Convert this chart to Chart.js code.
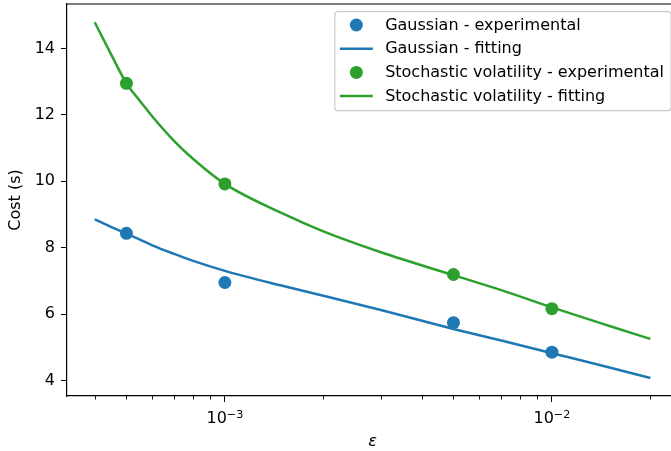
<!DOCTYPE html>
<html><head><meta charset="utf-8">
<script src="https://cdn.jsdelivr.net/npm/chart.js@4/dist/chart.umd.min.js"></script>
<style>html,body{margin:0;padding:0;background:#fff;overflow:hidden}#wrap{width:671px;height:451px;position:relative;overflow:hidden}canvas{display:block}</style>
</head><body><div id="wrap"><canvas id="c" width="685" height="451"></canvas></div>
<script>
// ---- data ----
const expEps   = [5e-4, 1e-3, 5e-3, 1e-2];
const gaussExp = [8.43, 6.95, 5.74, 4.85];
const svExp    = [12.95, 9.92, 7.19, 6.16];

const fitEps   = [4e-4, 4.5e-4, 5e-4, 5.5e-4, 6e-4, 7e-4, 8e-4, 1e-3, 1.5e-3, 2e-3, 3e-3, 5e-3, 7e-3, 1e-2, 1.5e-2, 2e-2];
const gaussFit = [8.85, 8.62, 8.42, 8.24, 8.07, 7.81, 7.60, 7.30, 6.85, 6.55, 6.12, 5.55, 5.20, 4.82, 4.39, 4.07];
const svFit    = [14.79, 13.80, 12.95, 12.42, 11.95, 11.21, 10.67, 9.92, 9.03, 8.49, 7.86, 7.17, 6.72, 6.20, 5.64, 5.25];

const seriesLabels = ['Gaussian - experimental', 'Gaussian - fitting',
                      'Stochastic volatility - experimental', 'Stochastic volatility - fitting'];

const xMajorTicks = [1e-3, 1e-2];
const xTickBase = ['10', '10'];
const xTickExp  = ['\u22123', '\u22122'];
const xMinorTicks = [4e-4, 5e-4, 6e-4, 7e-4, 8e-4, 9e-4,
                     2e-3, 3e-3, 4e-3, 5e-3, 6e-3, 7e-3, 8e-3, 9e-3, 2e-2];
const yTicks = [4, 6, 8, 10, 12, 14];

const xRange = [3.29e-4, 0.0243];
const yRange = [3.53, 15.34];

const BLUE = '#1f77b4', GREEN = '#2ca02c';
const FONT = 'DejaVu Sans';
const FS = 16;
const FS_SUP = 11.2;

const pts = (xs, ys) => xs.map((x, i) => ({x: x, y: ys[i]}));

// ---- plugins ----
const framePlugin = {
  id: 'frame',
  afterDraw(chart) {
    const {ctx, chartArea: a, scales} = chart;
    ctx.save();
    ctx.strokeStyle = '#000';
    ctx.lineWidth = 0.9;
    xMinorTicks.forEach(v => {
      const px = Math.round(scales.x.getPixelForValue(v)) + 0.5;
      ctx.beginPath(); ctx.moveTo(px, a.bottom); ctx.lineTo(px, a.bottom + 3.5); ctx.stroke();
    });
    ctx.lineWidth = 1.2;
    ctx.beginPath();
    ctx.moveTo(a.left, a.top); ctx.lineTo(a.right, a.top); ctx.lineTo(a.right, a.bottom);
    ctx.stroke();
    // x tick labels in mathtext style: base + raised exponent
    ctx.fillStyle = '#000';
    ctx.textBaseline = 'alphabetic';
    ctx.textAlign = 'left';
    xMajorTicks.forEach((v, i) => {
      const px = scales.x.getPixelForValue(v);
      ctx.font = FS + 'px "' + FONT + '"';
      const wb = ctx.measureText(xTickBase[i]).width;
      ctx.font = FS_SUP + 'px "' + FONT + '"';
      const we = ctx.measureText(xTickExp[i]).width;
      const x0 = px - (wb + we) / 2;
      ctx.font = FS + 'px "' + FONT + '"';
      ctx.fillText(xTickBase[i], x0, a.bottom + 27.3);
      ctx.font = FS_SUP + 'px "' + FONT + '"';
      ctx.fillText(xTickExp[i], x0 + wb, a.bottom + 21.7);
    });
    ctx.restore();
  }
};

const legendPlugin = {
  id: 'mplLegend',
  afterDraw(chart) {
    const {ctx, chartArea: a} = chart;
    const ds = chart.data.datasets;
    ctx.save();
    ctx.font = FS + 'px "' + FONT + '"';
    let maxW = 0;
    ds.forEach(d => { maxW = Math.max(maxW, ctx.measureText(d.label).width); });
    const padL = 5, handleLen = 33, gap = 12.3, padR = 7;
    const w = padL + handleLen + gap + maxW + padR;
    const right = a.right - 7;
    const left = right - w;
    const top = a.top + 7.7;
    const rowH = 23.7;
    const h = 99;
    ctx.fillStyle = 'rgba(255,255,255,0.8)';
    ctx.strokeStyle = '#cccccc';
    ctx.lineWidth = 1.2;
    const r = 3;
    ctx.beginPath();
    ctx.moveTo(left + r, top);
    ctx.lineTo(right - r, top); ctx.arcTo(right, top, right, top + r, r);
    ctx.lineTo(right, top + h - r); ctx.arcTo(right, top + h, right - r, top + h, r);
    ctx.lineTo(left + r, top + h); ctx.arcTo(left, top + h, left, top + h - r, r);
    ctx.lineTo(left, top + r); ctx.arcTo(left, top, left + r, top, r);
    ctx.closePath();
    ctx.fill(); ctx.stroke();
    ds.forEach((d, i) => {
      const cy = top + 13.3 + i * rowH;
      const hx = left + padL;
      if (d.showLine) {
        ctx.strokeStyle = d.borderColor; ctx.lineWidth = d.borderWidth;
        ctx.beginPath(); ctx.moveTo(hx, cy); ctx.lineTo(hx + handleLen, cy); ctx.stroke();
      } else {
        ctx.fillStyle = d.backgroundColor;
        ctx.beginPath(); ctx.arc(hx + handleLen / 2, cy, d.pointRadius, 0, Math.PI * 2); ctx.fill();
      }
      ctx.fillStyle = '#000';
      ctx.textBaseline = 'middle';
      ctx.textAlign = 'left';
      ctx.fillText(d.label, hx + handleLen + gap, cy + 0.5);
    });
    ctx.restore();
  }
};

Chart.defaults.font.family = FONT;
Chart.defaults.font.size = FS;
Chart.defaults.color = '#000';

new Chart(document.getElementById('c'), {
  type: 'scatter',
  data: {
    datasets: [
      { label: seriesLabels[0], data: pts(expEps, gaussExp), backgroundColor: BLUE, borderColor: BLUE,
        pointRadius: 6.5, pointHoverRadius: 6.5, borderWidth: 0, showLine: false, order: 4 },
      { label: seriesLabels[1], data: pts(fitEps, gaussFit), borderColor: BLUE, backgroundColor: BLUE,
        borderWidth: 2.5, pointRadius: 0, showLine: true, cubicInterpolationMode: 'monotone', order: 3 },
      { label: seriesLabels[2], data: pts(expEps, svExp), backgroundColor: GREEN, borderColor: GREEN,
        pointRadius: 6.5, pointHoverRadius: 6.5, borderWidth: 0, showLine: false, order: 2 },
      { label: seriesLabels[3], data: pts(fitEps, svFit), borderColor: GREEN, backgroundColor: GREEN,
        borderWidth: 2.5, pointRadius: 0, showLine: true, cubicInterpolationMode: 'monotone', order: 1 }
    ]
  },
  options: {
    responsive: false,
    animation: false,
    devicePixelRatio: 1,
    layout: { autoPadding: false, padding: { left: 0, top: 4, right: 7, bottom: 0 } },
    plugins: { legend: { display: false }, tooltip: { enabled: false } },
    scales: {
      x: {
        type: 'logarithmic', min: xRange[0], max: xRange[1], bounds: 'data',
        afterBuildTicks: s => { s.ticks = xMajorTicks.map(v => ({value: v})); },
        afterFit: s => { s.height = 55; s.paddingLeft = 0; s.paddingRight = 0; },
        ticks: { display: false, autoSkip: false, maxRotation: 0 },
        grid: { drawOnChartArea: false, drawTicks: true, tickLength: 6, tickColor: '#000', tickWidth: 1 },
        border: { display: true, color: '#000', width: 1.2 },
        title: { display: true, text: '\u03B5', font: { family: FONT, size: FS, style: 'italic' }, padding: { top: 0, bottom: 0 } }
      },
      y: {
        type: 'linear', min: yRange[0], max: yRange[1], bounds: 'data',
        afterBuildTicks: s => { s.ticks = yTicks.map(v => ({value: v})); },
        afterFit: s => { s.width = 67; s.paddingTop = 0; s.paddingBottom = 0; },
        ticks: { padding: 6, callback: v => String(v) },
        grid: { drawOnChartArea: false, drawTicks: true, tickLength: 6, tickColor: '#000', tickWidth: 1 },
        border: { display: true, color: '#000', width: 1.2 },
        title: { display: true, text: 'Cost (s)', font: { family: FONT, size: FS }, padding: { top: 6, bottom: 0 } }
      }
    }
  },
  plugins: [framePlugin, legendPlugin]
});
</script>
</body></html>
